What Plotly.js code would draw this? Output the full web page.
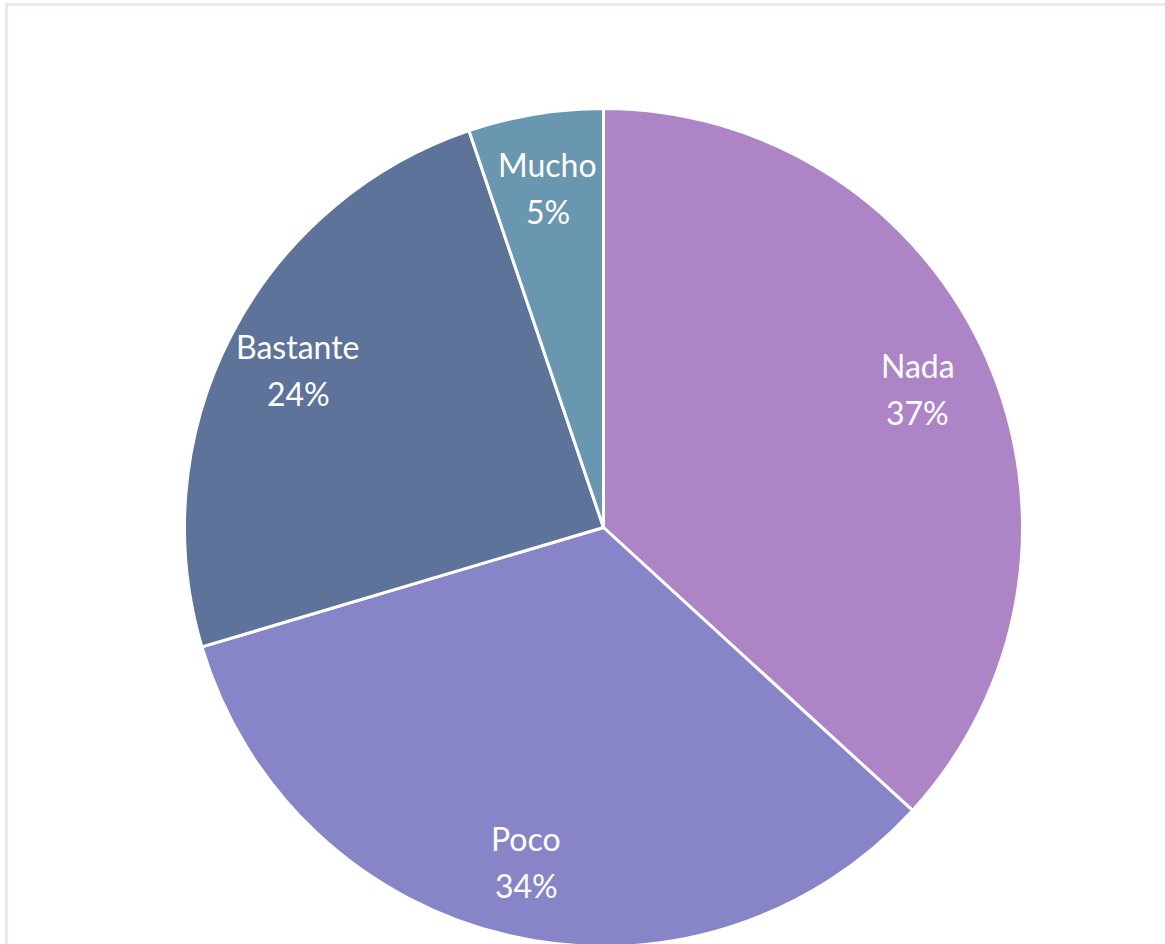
<!DOCTYPE html>
<html>
<head>
<meta charset="utf-8">
<script src="https://cdn.plot.ly/plotly-3.0.1.min.js"></script>
<style>
  html, body { margin: 0; padding: 0; width: 1165px; height: 944px; overflow: hidden; background: #fff; }
  #chart { position: absolute; left: 0; top: 0; width: 1165px; height: 1055px; }
  #frame { position: absolute; left: 5px; top: 3px; width: 1200px; height: 1000px;
           border-left: 3px solid #EEE7F3; border-top: 3px solid #EEE7F3; pointer-events: none; }
</style>
</head>
<body>
<div id="chart"></div>
<div id="frame"></div>
<script>
const categories = ["Nada", "Poco", "Bastante", "Mucho"];
const values = [36.8, 33.6, 24.4, 5.2];
const colors = ["#AD84C6", "#8784C7", "#5D739A", "#6997AF"];

const W = 1165, H = 1055;
const cx = 603.5, cy = 527.5, r = 419;
const labelRadius = 0.82;
const fontFamily = "Lato, 'Open Sans', sans-serif";
const fontSize = 32;
const lineGap = 23.5;

const trace = {
  type: "pie",
  labels: categories,
  values: values,
  sort: false,
  direction: "clockwise",
  rotation: 0,
  marker: { colors: colors, line: { color: "#ffffff", width: 3 } },
  textinfo: "none",
  hoverinfo: "label+percent",
  showlegend: false,
  domain: {
    x: [(cx - r) / W, (cx + r) / W],
    y: [(H - cy - r) / H, (H - cy + r) / H]
  }
};

// Data labels placed along each slice's mid-angle (derived from the values)
const total = values.reduce((a, b) => a + b, 0);
const annotations = [];
let cum = 0;
values.forEach((v, i) => {
  const mid = (cum + v / 2) / total * 2 * Math.PI;
  cum += v;
  const px = cx + labelRadius * r * Math.sin(mid);
  const py = cy - labelRadius * r * Math.cos(mid);
  const xp = px / W, yp = (H - py) / H;
  const pct = Math.round(v / total * 100) + "%";
  [[categories[i], lineGap], [pct, -lineGap]].forEach(([t, ys]) => {
    annotations.push({
      xref: "paper", yref: "paper", x: xp, y: yp, yshift: ys,
      text: t, showarrow: false, xanchor: "center", yanchor: "middle",
      font: { family: fontFamily, size: fontSize, color: "#ffffff" }
    });
  });
});

const layout = {
  width: W,
  height: H,
  margin: { l: 0, r: 0, t: 0, b: 0 },
  paper_bgcolor: "#ffffff",
  showlegend: false,
  annotations: annotations
};

Plotly.newPlot("chart", [trace], layout, { displayModeBar: false, staticPlot: true });
</script>
</body>
</html>
